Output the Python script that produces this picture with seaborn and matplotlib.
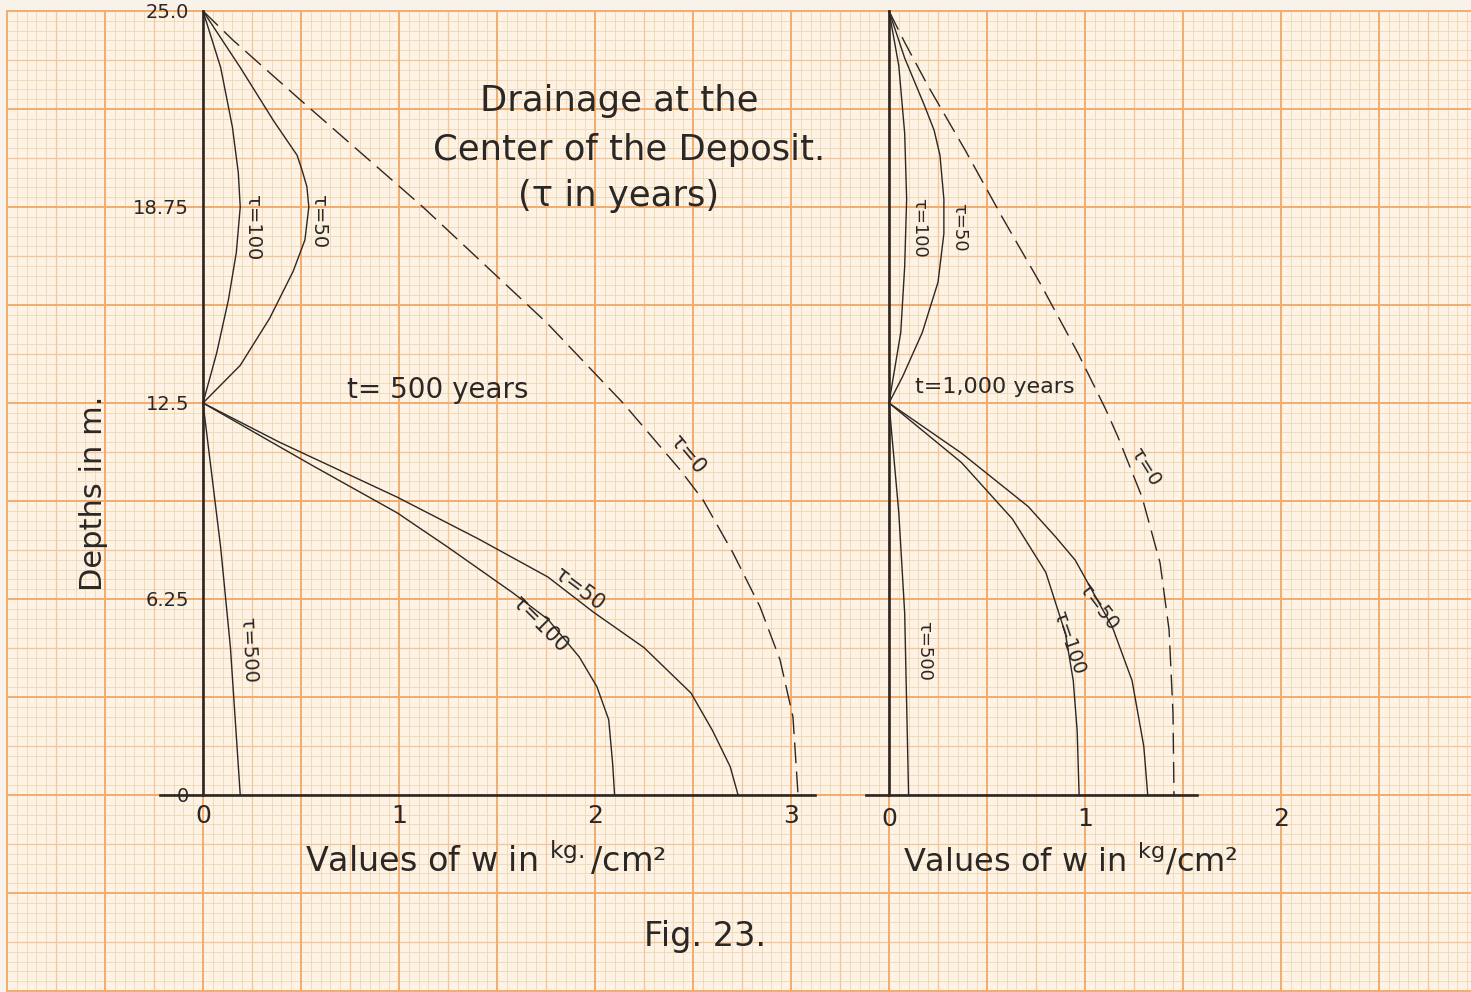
import matplotlib
matplotlib.use("Agg")
import matplotlib.pyplot as plt
from matplotlib.patches import Rectangle
import seaborn as sns

sns.set_theme(style="white")
plt.rcParams["font.family"] = ["DejaVu Sans"]
plt.rcParams["mathtext.fontset"] = "dejavusans"

# ---------------------------------------------------------------------------
# Pressure w (kg/cm²) against depth (m), drainage at the centre of the deposit
# ---------------------------------------------------------------------------
# t = 500 years
w500_tau0 = [0, 0.153, 0.49, 1.122, 1.755, 2.143, 2.434, 2.551, 2.704, 2.842, 2.944, 3.010, 3.036]
d500_tau0 = [25, 24.07, 22.2, 18.75, 15.05, 12.5, 10.37, 9.41, 7.72, 6.0, 4.31, 2.49, 0]

w500_tau50_up = [0, 0.19, 0.36, 0.48, 0.505, 0.53, 0.54, 0.52, 0.46, 0.34, 0.19, 0]
d500_tau50_up = [25, 23.2, 21.5, 20.4, 19.93, 19.4, 18.75, 17.7, 16.7, 15.2, 13.7, 12.5]
w500_tau50_lo = [0, 0.39, 0.99, 1.41, 1.76, 1.99, 2.25, 2.49, 2.60, 2.69, 2.73]
d500_tau50_lo = [12.5, 11.25, 9.5, 8.15, 6.95, 5.84, 4.7, 3.25, 2.05, 0.9, 0]

w500_tau100_up = [0, 0.09, 0.15, 0.18, 0.19, 0.17, 0.13, 0.07, 0]
d500_tau100_up = [25, 23.2, 21.3, 19.85, 18.75, 17.3, 15.8, 14.1, 12.5]
w500_tau100_lo = [0, 0.56, 0.99, 1.25, 1.58, 1.76, 1.92, 2.01, 2.07, 2.09, 2.10]
d500_tau100_lo = [12.5, 10.5, 9.0, 7.9, 6.45, 5.6, 4.4, 3.45, 2.4, 1.0, 0]

w500_tau500 = [0, 0.09, 0.14, 0.19]
d500_tau500 = [12.5, 7.9, 4.7, 0]

# t = 1,000 years
w1000_tau0 = [0, 0.08, 0.20, 0.388, 0.577, 0.77, 0.964, 1.107, 1.168, 1.291, 1.383, 1.429, 1.449, 1.454]
d1000_tau0 = [25, 24.0, 22.6, 20.57, 18.43, 16.33, 14.09, 12.28, 11.42, 9.5, 7.4, 5.26, 2.61, 0]

w1000_tau50_up = [0, 0.08, 0.18, 0.23, 0.26, 0.28, 0.28, 0.25, 0.17, 0.07, 0]
d1000_tau50_up = [25, 23.5, 22.0, 21.2, 20.4, 19.0, 17.9, 16.35, 14.75, 13.35, 12.5]
w1000_tau50_lo = [0, 0.37, 0.71, 0.85, 0.95, 1.14, 1.24, 1.30, 1.32]
d1000_tau50_lo = [12.5, 10.9, 9.2, 8.23, 7.49, 5.35, 3.65, 1.55, 0]

w1000_tau100_up = [0, 0.05, 0.08, 0.09, 0.08, 0.06, 0]
d1000_tau100_up = [25, 23.25, 21.1, 19.0, 16.85, 14.75, 12.5]
w1000_tau100_lo = [0, 0.37, 0.63, 0.80, 0.90, 0.94, 0.96, 0.97]
d1000_tau100_lo = [12.5, 10.6, 8.8, 7.1, 5.15, 3.65, 2.05, 0]

w1000_tau500 = [0, 0.05, 0.08, 0.10]
d1000_tau500 = [12.5, 9.0, 5.8, 0]

depth_ticks = [0, 6.25, 12.5, 18.75, 25]
depth_tick_labels = ["0", "6.25", "12.5", "18.75", "25.0"]
w_ticks_500 = [0, 1, 2, 3]
w_ticks_1000 = [0, 1, 2]

# ---------------------------------------------------------------------------
# Sheet of millimetre paper
# ---------------------------------------------------------------------------
W, H = 1471, 992
MM = 9.8                 # one millimetre on the sheet, in pixels
PX_W = 20 * MM           # 1 kg/cm² = 2 cm
PX_D = 80 * MM / 25.0    # 25 m = 8 cm
X0_LEFT, X0_RIGHT, Y0 = 203.0, 203.0 + 70 * MM, 795.0

INK = "#2b2724"
PAPER = "#fdf2e4"
MARGIN = "#f8f2ea"
FINE = "#ecd9b6"
HALF = "#f5c597"
BOLD = "#f1aa6c"

fig = plt.figure(figsize=(W / 100, H / 100), dpi=100)
fig.patch.set_facecolor(MARGIN)

sheet = fig.add_axes([0, 0, 1, 1], zorder=0)
sheet.set_xlim(0, W)
sheet.set_ylim(H, 0)
sheet.axis("off")
left_edge = X0_LEFT - 20 * MM
top_edge = Y0 - 80 * MM
sheet.add_patch(Rectangle((left_edge, top_edge), W, H, color=PAPER, lw=0))


def rule_style(k):
    if k % 10 == 0:
        return BOLD, 1.35, 3
    if k % 5 == 0:
        return HALF, 0.9, 2
    return FINE, 0.6, 1


for k in range(-20, 200):
    x = X0_LEFT + k * MM
    if x > W + 1:
        break
    c, lw, z = rule_style(k)
    sheet.plot([x, x], [top_edge, H], color=c, lw=lw, zorder=z)

for m in range(-80, 40):
    y = Y0 + m * MM
    if y > H + 1:
        break
    c, lw, z = rule_style(m)
    sheet.plot([left_edge, W], [y, y], color=c, lw=lw, zorder=z)


def panel(x0, xlim, ylim=(0, 25)):
    """Axes whose data units sit on the millimetre grid of the sheet."""
    left = x0 + xlim[0] * PX_W
    right = x0 + xlim[1] * PX_W
    bottom = Y0 - ylim[0] * PX_D
    top = Y0 - ylim[1] * PX_D
    ax = fig.add_axes([left / W, 1 - bottom / H, (right - left) / W, (bottom - top) / H],
                      zorder=3)
    ax.patch.set_alpha(0)
    return ax, left, right


def to_axes(ax_left, ax_right, px, py):
    return ((px - ax_left) / (ax_right - ax_left), (Y0 - py) / (25 * PX_D))


def draw_curve(ax, w, d, dashed=False):
    kw = dict(linestyle=(0, (15, 6))) if dashed else {}
    sns.lineplot(x=w, y=d, sort=False, estimator=None, ax=ax, color=INK,
                 linewidth=1.0, clip_on=False, **kw)


def style_axes(ax, xlim, axis_end, xticks):
    ax.set_xlim(*xlim)
    ax.set_ylim(0, 25)
    for s in ("top", "right"):
        ax.spines[s].set_visible(False)
    ax.spines["left"].set_position(("data", 0))
    ax.spines["left"].set_bounds(0, 25)
    ax.spines["bottom"].set_bounds(xlim[0], axis_end)
    for s in ("left", "bottom"):
        ax.spines[s].set_color(INK)
        ax.spines[s].set_linewidth(1.9)
    ax.set_xticks(xticks)
    ax.set_xticklabels([str(t) for t in xticks])
    ax.tick_params(axis="x", labelsize=18, labelcolor=INK, pad=3)
    ax.grid(False)


# ---------------------------------------------------------------------------
# Left panel: t = 500 years
# ---------------------------------------------------------------------------
xlim_l = (-0.22, 3.13)
axl, l_left, l_right = panel(X0_LEFT, xlim_l)
draw_curve(axl, w500_tau0, d500_tau0, dashed=True)
for w, d in [(w500_tau50_up, d500_tau50_up), (w500_tau50_lo, d500_tau50_lo),
             (w500_tau100_up, d500_tau100_up), (w500_tau100_lo, d500_tau100_lo),
             (w500_tau500, d500_tau500)]:
    draw_curve(axl, w, d)
style_axes(axl, xlim_l, 3.12, w_ticks_500)
axl.tick_params(axis="x", direction="inout", length=7, width=1.1, color=INK)
axl.set_yticks(depth_ticks)
axl.set_yticklabels(depth_tick_labels)
axl.tick_params(axis="y", length=0, pad=10, labelsize=14, labelcolor=INK)

axl.set_xlabel("Values of w in $^{\\mathrm{kg.}}$/cm²", fontsize=24, color=INK)
axl.xaxis.set_label_coords(*to_axes(l_left, l_right, 485, 860))
axl.xaxis.label.set_va("center")
axl.set_ylabel("Depths in m.", fontsize=22, color=INK)
axl.yaxis.set_label_coords(*to_axes(l_left, l_right, 93, 493))
axl.yaxis.label.set_va("center")

lab = dict(color=INK, ha="center", va="center", rotation_mode="anchor")
axl.text(0.25, 18.1, "τ=100", fontsize=14, rotation=-90, **lab)
axl.text(0.59, 18.3, "τ=50", fontsize=14, rotation=-90, **lab)
axl.text(0.23, 4.6, "τ=500", fontsize=14, rotation=-87, **lab)
axl.text(1.92, 6.55, "τ=50", fontsize=15, rotation=-37, **lab)
axl.text(1.72, 5.45, "τ=100", fontsize=15, rotation=-45, **lab)
axl.text(2.47, 10.85, "τ=0", fontsize=15, rotation=-50, **lab)
axl.text(1.20, 12.9, "t= 500 years", fontsize=20, color=INK, ha="center", va="center")

# ---------------------------------------------------------------------------
# Right panel: t = 1,000 years
# ---------------------------------------------------------------------------
xlim_r = (-0.115, 2.1)
axr, r_left, r_right = panel(X0_RIGHT, xlim_r)
draw_curve(axr, w1000_tau0, d1000_tau0, dashed=True)
for w, d in [(w1000_tau50_up, d1000_tau50_up), (w1000_tau50_lo, d1000_tau50_lo),
             (w1000_tau100_up, d1000_tau100_up), (w1000_tau100_lo, d1000_tau100_lo),
             (w1000_tau500, d1000_tau500)]:
    draw_curve(axr, w, d)
style_axes(axr, xlim_r, 1.57, w_ticks_1000)
axr.tick_params(axis="x", length=0, pad=9)
axr.set_yticks([])
axr.set_ylabel("")

axr.set_xlabel("Values of w in $^{\\mathrm{kg}}$/cm²", fontsize=23, color=INK)
axr.xaxis.set_label_coords(*to_axes(r_left, r_right, 1070, 860))
axr.xaxis.label.set_va("center")

axr.text(0.155, 18.1, "τ=100", fontsize=13, rotation=-90, **lab)
axr.text(0.36, 18.1, "τ=50", fontsize=13, rotation=-90, **lab)
axr.text(0.18, 4.6, "τ=500", fontsize=13, rotation=-90, **lab)
axr.text(1.07, 6.0, "τ=50", fontsize=14, rotation=-53, **lab)
axr.text(0.92, 4.85, "τ=100", fontsize=14, rotation=-71, **lab)
axr.text(1.31, 10.45, "τ=0", fontsize=14, rotation=-58, **lab)
axr.text(0.54, 13.0, "t=1,000 years", fontsize=16, color=INK, ha="center", va="center")

# ---------------------------------------------------------------------------
# Heading and figure number, written on the sheet
# ---------------------------------------------------------------------------
sheet.text(619, 111, "Drainage at the", fontsize=25.5, color=INK, ha="center", va="baseline")
sheet.text(629, 160, "Center of the Deposit.", fontsize=25.5, color=INK, ha="center", va="baseline")
sheet.text(619, 206, "(τ in years)", fontsize=25.5, color=INK, ha="center", va="baseline")
sheet.text(705, 946, "Fig. 23.", fontsize=24, color=INK, ha="center", va="baseline")

fig.savefig("out.png", dpi=100, facecolor=fig.get_facecolor())
